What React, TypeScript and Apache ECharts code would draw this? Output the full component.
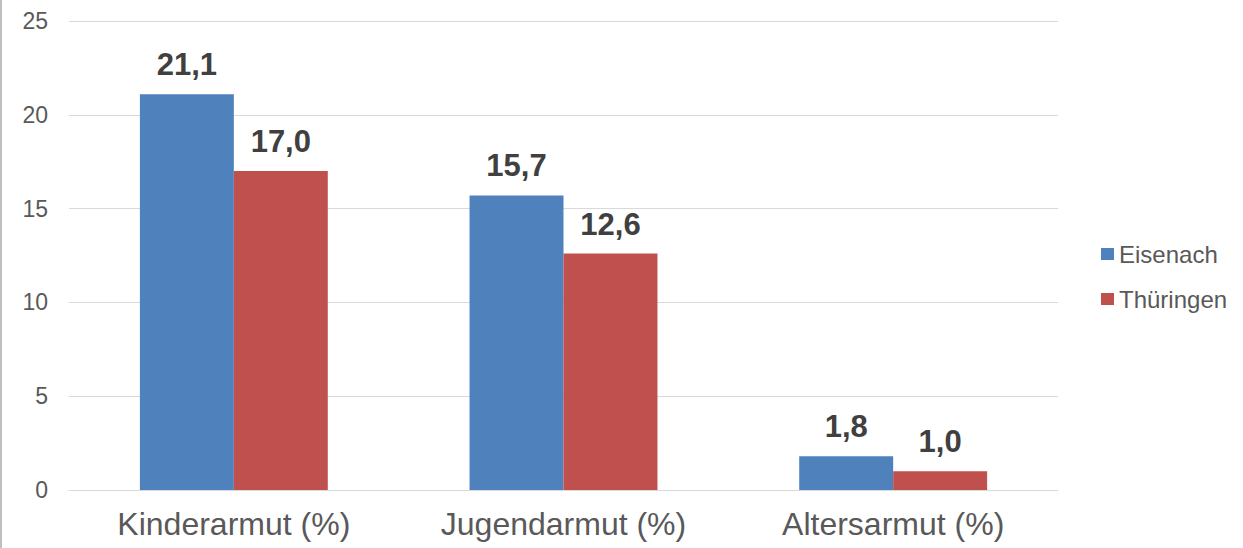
import React, { useEffect, useRef } from "react";
import * as echarts from "echarts";

const categories = ["Kinderarmut (%)", "Jugendarmut (%)", "Altersarmut (%)"];
const eisenach = [21.1, 15.7, 1.8];
const thueringen = [17.0, 12.6, 1.0];
const seriesNames = ["Eisenach", "Thüringen"];

const fmt = (v: number) => v.toFixed(1).replace(".", ",");

export default function App() {
  const ref = useRef<HTMLDivElement>(null);
  useEffect(() => {
    document.body.style.margin = "0";
    const chart = echarts.init(ref.current!, null, { renderer: "svg" });
    const font = "'Liberation Sans', Arial, sans-serif";
    const label = {
      show: true,
      position: "top",
      distance: 14,
      fontFamily: font,
      fontSize: 31,
      fontWeight: "bold",
      color: "#404040",
      formatter: (p: any) => fmt(p.value),
    };
    chart.setOption({
      animation: false,
      backgroundColor: "#ffffff",
      textStyle: { fontFamily: font },
      grid: { left: 69, right: 185, top: 21, bottom: 58, containLabel: false },
      legend: {
        orient: "vertical",
        left: 1096,
        top: 237,
        itemWidth: 13,
        itemHeight: 12,
        itemGap: 21,
        icon: "rect",
        textStyle: { fontFamily: font, fontSize: 24, color: "#595959" },
        data: seriesNames,
      },
      xAxis: {
        type: "category",
        data: categories,
        axisLine: { show: true, lineStyle: { color: "#d9d9d9", width: 1 } },
        axisTick: { show: false },
        axisLabel: { fontFamily: font, fontSize: 32, color: "#595959", margin: 18 },
      },
      yAxis: {
        type: "value",
        min: 0,
        max: 25,
        interval: 5,
        axisLine: { show: false },
        axisTick: { show: false },
        splitLine: { lineStyle: { color: "#d9d9d9", width: 1 } },
        axisLabel: { fontFamily: font, fontSize: 23, color: "#595959", margin: 21 },
      },
      series: [
        {
          name: seriesNames[0],
          type: "bar",
          data: eisenach,
          barWidth: "28.5%",
          barGap: "0%",
          itemStyle: { color: "#4F81BD" },
          label,
        },
        {
          name: seriesNames[1],
          type: "bar",
          data: thueringen,
          barWidth: "28.5%",
          barGap: "0%",
          itemStyle: { color: "#C0504D" },
          label,
        },
      ],
      graphic: [
        {
          type: "rect",
          left: 0,
          top: 0,
          shape: { width: 2, height: 548 },
          style: { fill: "#bfbfbf" },
        },
      ],
    });
    return () => chart.dispose();
  }, []);
  return <div ref={ref} style={{ width: 1243, height: 548 }} />;
}
